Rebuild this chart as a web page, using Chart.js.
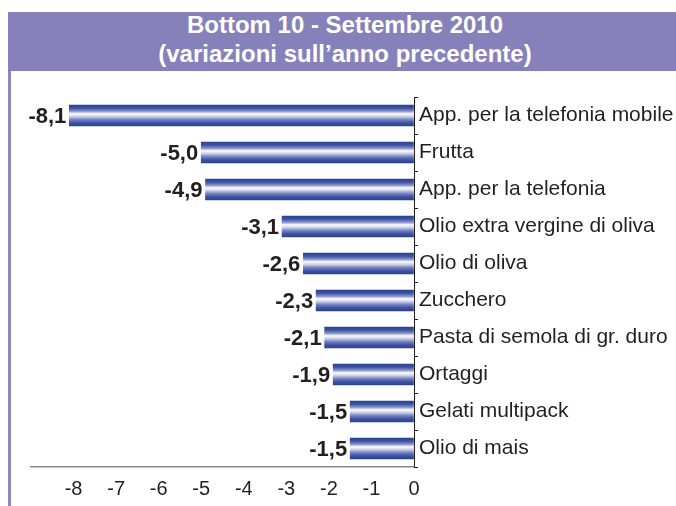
<!DOCTYPE html>
<html>
<head>
<meta charset="utf-8">
<script src="https://cdn.jsdelivr.net/npm/chart.js@4.4.0/dist/chart.umd.min.js"></script>
<style>
  body { margin: 0; background: #fff; }
  #wrap { position: relative; width: 676px; height: 506px; overflow: hidden; }
  #titleBox { position: absolute; left: 8px; top: 12px; width: 668px; height: 59px; background: #8781bb; }
  #titleText { position: absolute; left: 8px; top: 10px; width: 674px; text-align: center;
    font: bold 24px "Liberation Sans", Arial, sans-serif; line-height: 29px; color: #fff; }
  #leftLine { position: absolute; left: 8px; top: 71px; width: 3px; height: 435px; background: #8f88c4; }
  canvas { position: absolute; left: 0; top: 0; }
</style>
</head>
<body>
<div id="wrap">
  <div id="titleBox"></div>
  <div id="titleText">Bottom 10 - Settembre 2010<br>(variazioni sull’anno precedente)</div>
  <div id="leftLine"></div>
  <canvas id="myChart" width="676" height="506"></canvas>
</div>
<script>
var categorie = [
  "App. per la telefonia mobile",
  "Frutta",
  "App. per la telefonia",
  "Olio extra vergine di oliva",
  "Olio di oliva",
  "Zucchero",
  "Pasta di semola di gr. duro",
  "Ortaggi",
  "Gelati multipack",
  "Olio di mais"
]
var variazioni = [-8.1, -5.0, -4.9, -3.1, -2.6, -2.3, -2.1, -1.9, -1.5, -1.5]
var tickValori = [-8, -7, -6, -5, -4, -3, -2, -1, 0]

var fontName = '"Liberation Sans", Arial, sans-serif'

/* gradient for each bar, dark blue edges and white in the middle */
function barGradient(context){
  var chart = context.chart
  if(!chart.chartArea || !chart.scales.y) return '#2a4193'
  var y = chart.scales.y.getPixelForValue(context.dataIndex)
  var g = chart.ctx.createLinearGradient(0, y - 10.5, 0, y + 10.5)
  g.addColorStop(0, '#2a4193')
  g.addColorStop(0.15, '#3d53a2')
  g.addColorStop(0.3, '#8893c9')
  g.addColorStop(0.42, '#ffffff')
  g.addColorStop(0.55, '#cbcfe7')
  g.addColorStop(0.7, '#7380bf')
  g.addColorStop(0.85, '#3d52a3')
  g.addColorStop(1, '#2a4193')
  return g
}

/* value labels on the left of each bar */
const etichette = {
  id: 'etichette',
  afterDatasetsDraw(chart){
    const ctx = chart.ctx
    const meta = chart.getDatasetMeta(0)
    ctx.save()
    ctx.font = 'bold 22px ' + fontName
    ctx.fillStyle = '#231f20'
    ctx.textAlign = 'right'
    ctx.textBaseline = 'middle'
    meta.data.forEach(function(bar, i){
      var txt = variazioni[i].toFixed(1).replace('.', ',')
      ctx.fillText(txt, bar.x - 3, bar.y + 1)
    })
    ctx.restore()
  }
}

const config = {
  type: 'bar',
  data: {
    labels: categorie,
    datasets: [{
      data: variazioni,
      backgroundColor: barGradient,
      borderWidth: 0,
      barThickness: 21
    }]
  },
  options: {
    indexAxis: 'y',
    responsive: false,
    animation: false,
    layout: { padding: { top: 97, left: 31, right: 0, bottom: 0 } },
    plugins: { legend: { display: false }, tooltip: { enabled: false } },
    scales: {
      x: {
        min: -9,
        max: 0,
        afterFit: function(scale){ scale.height = 39 },
        afterBuildTicks: function(scale){
          scale.ticks = tickValori.map(function(v){ return { value: v } })
        },
        ticks: {
          color: '#231f20',
          font: { family: fontName, size: 20 },
          padding: 10,
          maxRotation: 0
        },
        grid: { drawOnChartArea: false, drawTicks: false },
        border: { color: '#8a8a8a', width: 1.5 }
      },
      y: {
        position: 'right',
        afterFit: function(scale){ scale.width = 262 },
        ticks: {
          color: '#231f20',
          font: { family: fontName, size: 21 },
          padding: 1,
          autoSkip: false
        },
        grid: { drawOnChartArea: false, tickLength: 4, color: '#231f20', offset: true },
        border: { color: '#231f20', width: 1 }
      }
    }
  },
  plugins: [etichette]
}

const myChart = new Chart(document.getElementById('myChart'), config)
</script>
</body>
</html>
